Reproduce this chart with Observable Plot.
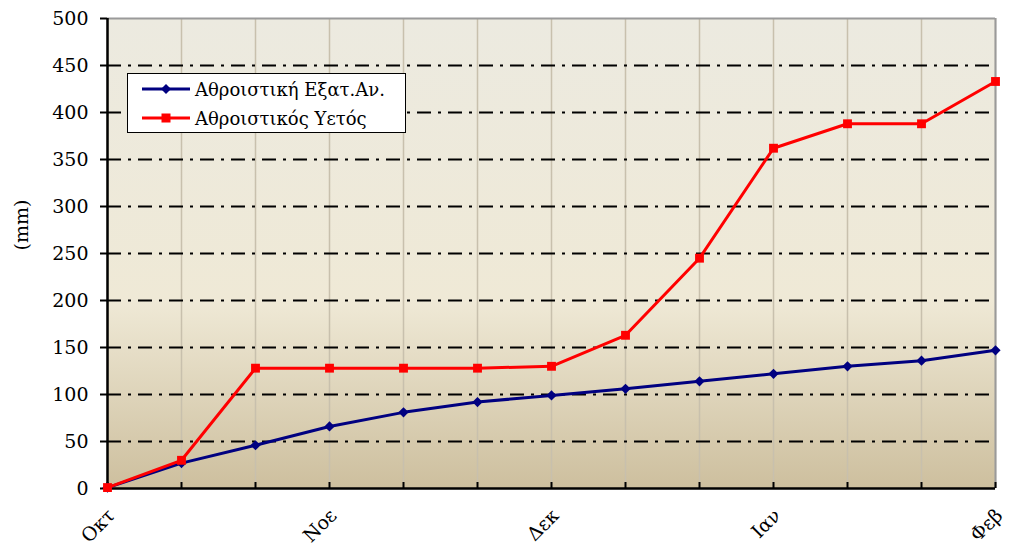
<!DOCTYPE html>
<html><head><meta charset="utf-8">
<script src="https://cdn.jsdelivr.net/npm/d3@7"></script>
<script src="https://cdn.jsdelivr.net/npm/@observablehq/plot@0.6"></script>
<style>
body{margin:0;background:#fff;}
#wrap{position:relative;width:1010px;height:551px;overflow:hidden;}
#legend{position:absolute;left:127px;top:73px;width:277px;height:58px;border:1.5px solid #000;background:#fff;font-family:"DejaVu Serif",serif;font-size:18px;color:#000;}
#legend .row{position:absolute;left:14px;height:24px;display:flex;align-items:center;white-space:nowrap;}
#legend svg{margin-right:5px;}
</style></head><body><div id="wrap"></div>
<script>
// ---- data ----
const monthLabels = ["Οκτ","","","Νοε","","","Δεκ","","","Ιαν","","","Φεβ"];
const evapSeries = [1,27,46,66,81,92,99,106,114,122,130,136,147];
const rainSeries = [1,30,128,128,128,128,130,163,245,362,388,388,433];
const yTicks = [0,50,100,150,200,250,300,350,400,450,500];
const seriesNames = ["Αθροιστική Εξατ.Αν.","Αθροιστικός Υετός"];
const seriesColors = ["#000080","#ff0000"];
const yLabel = "(mm)";

const idx = d3.range(monthLabels.length);
const evapData = idx.map(i => ({i, v: evapSeries[i]}));
const rainData = idx.map(i => ({i, v: rainSeries[i]}));
const labelIdx = idx.filter(i => monthLabels[i] !== "");

const plot = Plot.plot({
  width: 1010, height: 551,
  marginLeft: 107, marginRight: 15, marginTop: 18, marginBottom: 63,
  style: {fontFamily: "DejaVu Serif, serif", fontSize: "19px", background: "transparent", color: "#000"},
  x: {type: "linear", domain: [0, idx.length - 1]},
  y: {domain: [0, 500]},
  marks: [
    Plot.frame({fill: "url(#bg)", stroke: null}),
    Plot.ruleX(idx, {x: d => d, stroke: "#c8c0ad", strokeWidth: 1.5}),
    Plot.ruleY(yTicks.filter(v => v > 0 && v < 500), {y: d => d, stroke: "#000", strokeWidth: 1.8, strokeDasharray: "14,7,3,7"}),
    Plot.ruleY([500], {y: d => d, stroke: "#9a9a9a", strokeWidth: 2}),
    Plot.ruleX([idx.length - 1], {x: d => d, stroke: "#9a9a9a", strokeWidth: 2}),
    Plot.ruleX(idx, {x: d => d, y1: 0, y2: 0, insetTop: -6, stroke: "#000", strokeWidth: 2}),
    Plot.axisY({ticks: yTicks, tickSize: 7, tickPadding: 12, strokeWidth: 2, label: null, fontSize: 19}),
    Plot.axisX({ticks: labelIdx, tickSize: 0, tickPadding: 24, dx: 4, tickRotate: -45, tickFormat: i => monthLabels[i], label: null, fontSize: 19}),
    Plot.ruleX([0], {x: d => d, stroke: "#000", strokeWidth: 2.5}),
    Plot.ruleY([0], {y: d => d, stroke: "#000", strokeWidth: 2.5}),
    Plot.text([yLabel], {frameAnchor: "left", dx: -86, dy: -3, rotate: -90, fontSize: 19, text: d => d}),
    Plot.line(evapData, {x: "i", y: "v", stroke: seriesColors[0], strokeWidth: 3}),
    Plot.dot(evapData, {x: "i", y: "v", symbol: "diamond2", r: 4.6, fill: seriesColors[0], stroke: null}),
    Plot.line(rainData, {x: "i", y: "v", stroke: seriesColors[1], strokeWidth: 3}),
    Plot.dot(rainData, {x: "i", y: "v", symbol: "square", r: 5, fill: seriesColors[1], stroke: null})
  ]
});

const svg = d3.select(plot);
const grad = svg.insert("defs", ":first-child").append("linearGradient")
  .attr("id", "bg").attr("x1", 0).attr("y1", 0).attr("x2", 0).attr("y2", 1);
[[0, "#ecEAE0"], [0.6, "#efe9d6"], [1, "#cdbf9e"]].forEach(([o, c]) =>
  grad.append("stop").attr("offset", o).attr("stop-color", c));

const wrap = document.getElementById("wrap");
wrap.appendChild(plot);

// legend
const legend = document.createElement("div");
legend.id = "legend";
seriesNames.forEach((name, k) => {
  const row = document.createElement("div");
  row.className = "row";
  row.style.top = (k === 0 ? 3 : 32) + "px";
  const s = d3.create("svg").attr("width", 48).attr("height", 14);
  s.append("line").attr("x1", 0).attr("x2", 48).attr("y1", 7).attr("y2", 7)
    .attr("stroke", seriesColors[k]).attr("stroke-width", 3);
  if (k === 0) s.append("path").attr("d", "M24,2L29,7L24,12L19,7Z").attr("fill", seriesColors[k]);
  else s.append("rect").attr("x", 19.5).attr("y", 2.5).attr("width", 9).attr("height", 9).attr("fill", seriesColors[k]);
  row.appendChild(s.node());
  const t = document.createElement("span");
  t.textContent = name;
  row.appendChild(t);
  legend.appendChild(row);
});
wrap.appendChild(legend);
</script>
</body></html>
